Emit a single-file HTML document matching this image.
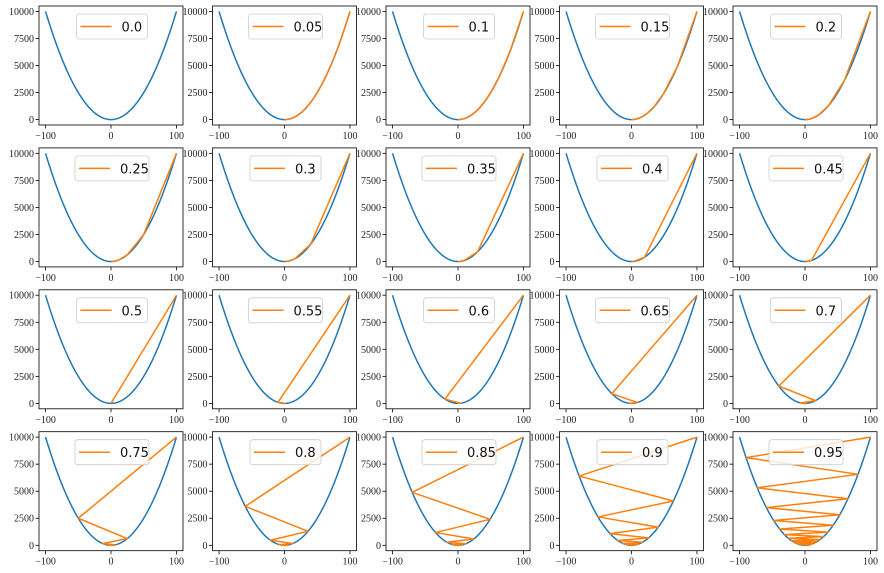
<!DOCTYPE html>
<html><head><meta charset="utf-8"><style>
body{margin:0;background:#fff;}
svg{display:block;}
.tick{font-family:"Liberation Serif",serif;font-size:10px;fill:#222;}
.leg{font-family:"DejaVu Sans","Liberation Sans",sans-serif;font-size:13px;fill:#111;}
</style></head><body>
<svg id="fig" width="884" height="573" xmlns="http://www.w3.org/2000/svg"></svg>
<script>
const learningRates = [0.0,0.05,0.1,0.15,0.2,0.25,0.3,0.35,0.4,0.45,0.5,0.55,0.6,0.65,0.7,0.75,0.8,0.85,0.9,0.95];
const labels = ["0.0","0.05","0.1","0.15","0.2","0.25","0.3","0.35","0.4","0.45","0.5","0.55","0.6","0.65","0.7","0.75","0.8","0.85","0.9","0.95"];
const startX = 100;
const iterations = 60;
const xTicks = [-100,0,100];
const yTicks = [0,2500,5000,7500,10000];
const NS="http://www.w3.org/2000/svg";
const svg=document.getElementById('fig');
function mk(t,a,p){const e=document.createElementNS(NS,t);for(const k in a)e.setAttribute(k,a[k]);(p||svg).appendChild(e);return e;}
const W=144,H=119;
learningRates.forEach((lr,i)=>{
  const col=i%5,row=Math.floor(i/5);
  const L=39+col*173.5,T=6+row*141.9;
  const sx=x=>L+(x+110)/220*W;
  const sy=y=>T+H-(y+500)/11000*H;
  const g=mk('g',{});
  
  
  let d='';
  for(let k=0;k<=200;k++){const x=-100+k;d+=(k?'L':'M')+sx(x).toFixed(2)+','+sy(x*x).toFixed(2);}
  const par=mk('path',{d:d,fill:'none',stroke:'#1f77b4','stroke-width':1.5},g);
  
  
  let x=startX,d2='M'+sx(x)+','+sy(x*x);
  for(let k=0;k<iterations;k++){x=x-lr*2*x;d2+='L'+sx(x).toFixed(2)+','+sy(x*x).toFixed(2);}
  const gd=mk('path',{d:d2,fill:'none',stroke:'#ff7f0e','stroke-width':1.5,'stroke-linejoin':'round'},g);
  
  
  const fr=mk('rect',{x:L,y:T,width:W,height:H,fill:'none',stroke:'#000','stroke-width':0.8},g);
  
  
  xTicks.forEach(v=>{
    mk('line',{x1:sx(v),x2:sx(v),y1:T+H,y2:T+H+3.5,stroke:'#000','stroke-width':0.8},g);
    const t=mk('text',{x:sx(v),y:T+H+14,'text-anchor':'middle',class:'tick'},g);
    t.textContent=v<0?'\u2212'+(-v):String(v);
    
    
  });
  yTicks.forEach(v=>{
    mk('line',{x1:L-3.5,x2:L,y1:sy(v),y2:sy(v),stroke:'#000','stroke-width':0.8},g);
    const t=mk('text',{x:L-5,y:sy(v)+3.5,'text-anchor':'end',class:'tick'},g);
    t.textContent=String(v);
    
    
  });
  const lg=mk('g',{},g);
  
  
  const lw=labels[i].length>3?74:71;
  const lx=L+W/2-lw/2+1;
  mk('rect',{x:lx,y:T+8,width:lw,height:25,rx:3,fill:'rgba(255,255,255,0.8)',stroke:'#ccc','stroke-width':0.8},lg);
  mk('line',{x1:lx+4,x2:lx+35,y1:T+20.5,y2:T+20.5,stroke:'#ff7f0e','stroke-width':1.5},lg);
  const lt=mk('text',{x:lx+45,y:T+25.5,class:'leg'},lg);
  lt.textContent=labels[i];
  
  
});
</script>
</body></html>
